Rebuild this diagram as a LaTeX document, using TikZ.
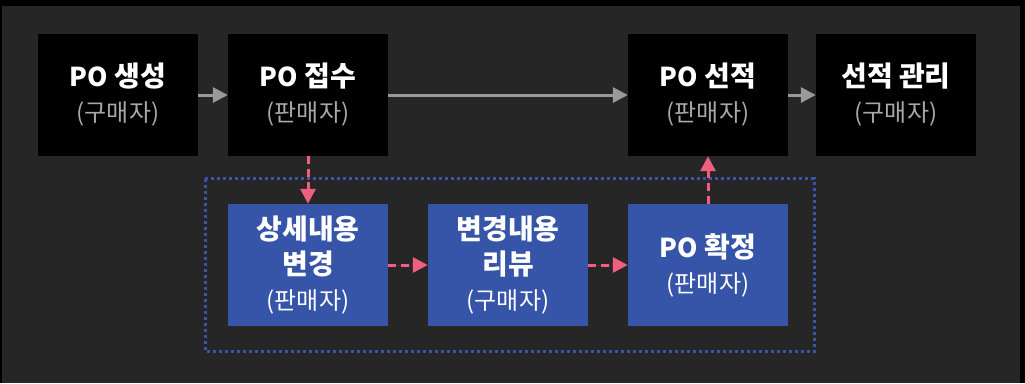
\documentclass[tikz,border=0pt]{standalone}
\usepackage{fontspec}
\setmainfont{Noto Sans CJK KR}
\usetikzlibrary{arrows.meta}
\definecolor{bg}{HTML}{262626}
\definecolor{boxblue}{HTML}{3755A8}
\definecolor{pinkline}{HTML}{F0607E}
\definecolor{arrowgray}{HTML}{9A9A9C}
\definecolor{subgray}{HTML}{A8A8A8}
\definecolor{dotblue}{HTML}{3A55A8}
\newcommand{\subblk}[1]{{\fontsize{24}{35}\selectfont\mdseries\color{subgray}#1}}
\newcommand{\subblu}[1]{{\fontsize{24}{35}\selectfont\mdseries\color{white}#1}}
\newcommand{\latpo}{{\fontsize{26}{35}\selectfont PO}}
\tikzset{
  basebox/.style={minimum width=160pt, minimum height=122pt, inner sep=0pt, align=center,
    text=white, font=\fontsize{28}{35}\selectfont\bfseries},
  blackbox/.style={basebox, fill=black},
  bluebox/.style={basebox, fill=boxblue},
  grayarrow/.style={draw=arrowgray, line width=3pt, -{Triangle[length=15pt,width=15pt]}, fill=arrowgray},
  pinkarrow/.style={draw=pinkline, line width=3pt, dash pattern=on 8pt off 5pt, -{Triangle[length=15pt,width=15pt]}, fill=pinkline},
  groupframe/.style={draw=dotblue, line width=3pt, dash pattern=on 3pt off 3pt}
}
\begin{document}
\begin{tikzpicture}[x=1pt,y=-1pt]
\fill[black] (0,0) rectangle (1025,383);
\fill[bg] (2,6) rectangle (1020,383);
\useasboundingbox (0,0) rectangle (1025,383);

\draw[groupframe] (205,178.5) rectangle (814,351);

\node[blackbox] (create) at (118,95) {\latpo{} 생성\\\subblk{(구매자)}};
\node[blackbox] (receive) at (308,95) {\latpo{} 접수\\\subblk{(판매자)}};
\node[blackbox] (ship) at (708,95) {\latpo{} 선적\\\subblk{(판매자)}};
\node[blackbox] (manage) at (896,95) {선적 관리\\\subblk{(구매자)}};

\node[bluebox] (change) at (308,265) {상세내용\\변경\\\subblu{(판매자)}};
\node[bluebox] (review) at (508,265) {변경내용\\리뷰\\\subblu{(구매자)}};
\node[bluebox] (confirm) at (708,265) {\latpo{} 확정\\\subblu{(판매자)}};

\draw[grayarrow] (create) -- (receive);
\draw[grayarrow] (receive) -- (ship);
\draw[grayarrow] (ship) -- (manage);

\draw[pinkarrow] (receive) -- (change);
\draw[pinkarrow] (change) -- (review);
\draw[pinkarrow] (review) -- (confirm);
\draw[pinkarrow] (confirm) -- (ship);
\end{tikzpicture}
\end{document}
